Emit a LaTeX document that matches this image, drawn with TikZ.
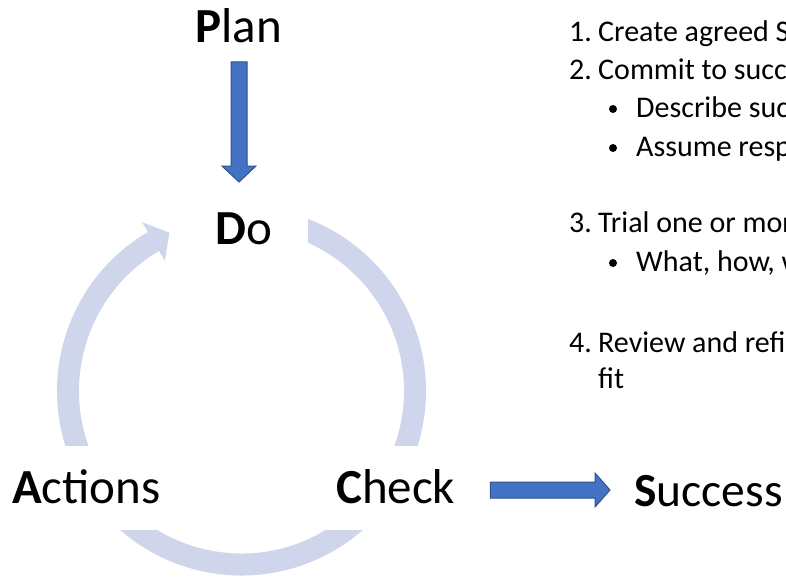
\documentclass[tikz,border=0pt]{standalone}
\usepackage{fontspec}
\setmainfont{Carlito}
\usetikzlibrary{calc}
\definecolor{ringc}{HTML}{CFD5EA}
\definecolor{arrfill}{HTML}{4472C4}
\definecolor{arrdraw}{HTML}{2F528F}
\begin{document}
\begin{tikzpicture}[x=1pt,y=1pt,
  big/.style={font=\fontsize{49}{58}\selectfont, inner sep=0pt},
  item/.style={font=\fontsize{30}{36}\selectfont, inner sep=0pt, anchor=base west},
  dot/.style={circle, fill=black, inner sep=0pt, minimum size=8pt},
  mask/.style={fill=white, draw=none},
  ring/.style={draw=ringc, line width=22pt},
  blockarrow/.style={fill=arrfill, draw=arrdraw, line width=1pt, line join=miter}]
\useasboundingbox (0,0) rectangle (786,576);
\clip (0,0) rectangle (786,576);
\coordinate (c) at (241.5,185);
% cycle ring
\draw[ring] ($(c)+(120.5:173.5)$) arc[start angle=120.5, end angle=438, radius=173.5];
\fill[ringc] ($(c)+(120.5:184.5)$) -- ($(c)+(120.5:196)$) -- ($(c)+(114.5:174)$)
  -- ($(c)+(120.5:151)$) -- ($(c)+(120.5:162.5)$) -- cycle;
% masks behind labels
\fill[mask] (170,308) rectangle (308,381);
\fill[mask] (0,46) rectangle (180,130);
\fill[mask] (320,46) rectangle (470,130);
% labels
\node[big, anchor=base] (plan) at (238.5,533) {\textbf{P}lan};
\node[big, anchor=base] (do) at (243.5,331) {\textbf{D}o};
\node[big, anchor=base west] (actions) at (12,73) {\textbf{A}ctions};
\node[big, anchor=base west] (check) at (336,73) {\textbf{C}heck};
\node[big, anchor=base west, font=\fontsize{47.5}{58}\selectfont] (success) at (634,70) {\textbf{S}uccess};
% block arrows
\coordinate (ds) at ($(plan.base)+(0.5,-19)$);
\coordinate (de) at ($(do.north)+(-4.5,31)$);
\draw[blockarrow] ($(ds)+(-8,0)$) -- ($(ds)+(8,0)$) -- ($(de)+(8,16)$) -- ($(de)+(17,16)$)
  -- (de) -- ($(de)+(-17,16)$) -- ($(de)+(-8,16)$) -- cycle;
\coordinate (rs) at ($(check.base east)+(35,13)$);
\coordinate (re) at ($(success.base west)+(-24,16)$);
\draw[blockarrow] ($(rs)+(0,8)$) -- ($(re)+(-15,8)$) -- ($(re)+(-15,17)$) -- (re)
  -- ($(re)+(-15,-17)$) -- ($(re)+(-15,-8)$) -- ($(rs)+(0,-8)$) -- cycle;
% list
\node[item] (n1) at (569,534) {1.};
\node[item] (t1) at (598,534) {Create agreed SMART};
\node[item] (n2) at (569,496) {2.};
\node[item] (t2) at (598,496) {Commit to success};
\node[dot] (b1) at (613,467) {};
\node[item] (t3) at (636,458) {Describe success};
\node[dot] (b2) at (613,428) {};
\node[item] (t4) at (636,419) {Assume respons};
\node[item] (n3) at (569,343) {3.};
\node[item] (t5) at (598,343) {Trial one or more};
\node[dot] (b3) at (613,313) {};
\node[item] (t6) at (636,304) {What, how, when};
\node[item] (n4) at (569,224) {4.};
\node[item] (t7) at (598,224) {Review and refine};
\node[item] (t8) at (598,188) {fit};
\end{tikzpicture}
\end{document}
